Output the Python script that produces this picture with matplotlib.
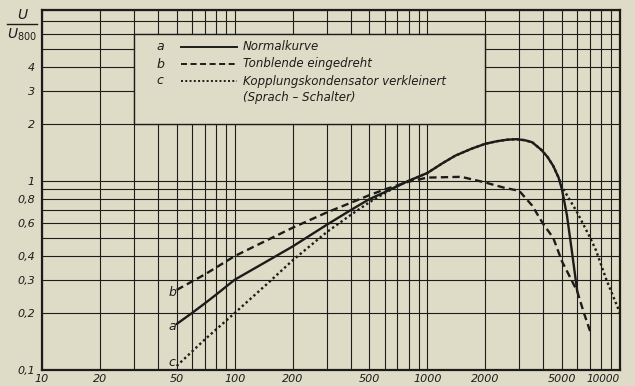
import numpy as np
import matplotlib
matplotlib.use("Agg")
import matplotlib.pyplot as plt
from matplotlib.lines import Line2D
from matplotlib.patches import Rectangle
from matplotlib.ticker import FixedLocator, NullFormatter, LogLocator

# --- frequency response data (f in Hz, U/U800) ---
freq_a = [50, 60, 70, 80, 100, 150, 200, 300, 400, 500, 600, 800, 1000, 1200,
          1400, 1700, 2000, 2300, 2600, 2900, 3200, 3500, 3900, 4200, 4500,
          4800, 5000, 5300, 5600, 6000]
val_a = [0.175, 0.20, 0.225, 0.25, 0.30, 0.38, 0.45, 0.585, 0.70, 0.80, 0.87,
         1.0, 1.10, 1.24, 1.36, 1.48, 1.57, 1.62, 1.65, 1.66, 1.64, 1.60, 1.46,
         1.34, 1.20, 1.04, 0.90, 0.66, 0.44, 0.26]

freq_b = [50, 70, 100, 150, 200, 300, 400, 500, 600, 800, 1000, 1500, 2000,
          2500, 3000, 3500, 4000, 4500, 5000, 5500, 6000, 6500, 7000]
val_b = [0.265, 0.32, 0.40, 0.49, 0.565, 0.68, 0.765, 0.84, 0.90, 0.99, 1.04,
         1.05, 0.98, 0.92, 0.885, 0.74, 0.59, 0.50, 0.375, 0.31, 0.26, 0.20, 0.16]

freq_c = [50, 70, 100, 150, 200, 300, 400, 500, 600, 700, 800, 1000, 1200, 1400,
          1700, 2000, 2300, 2600, 2900, 3200, 3500, 3900, 4200, 4500, 4800,
          5000, 6000, 7000, 7500, 8500, 10000]
val_c = [0.105, 0.145, 0.20, 0.29, 0.38, 0.535, 0.66, 0.77, 0.86, 0.94, 1.0,
         1.10, 1.24, 1.36, 1.48, 1.57, 1.62, 1.65, 1.66, 1.64, 1.60, 1.46, 1.34,
         1.20, 1.04, 0.93, 0.68, 0.50, 0.43, 0.30, 0.20]

x_ticks = [10, 20, 50, 100, 200, 500, 1000, 2000, 5000, 10000]
x_labels = ["10", "20", "50", "100", "200", "500", "1000", "2000", "5000", "10000"]
y_ticks = [0.1, 0.2, 0.3, 0.4, 0.6, 0.8, 1, 2, 3, 4]
y_labels = ["0,1", "0,2", "0,3", "0,4", "0,6", "0,8", "1", "2", "3", "4"]

legend_keys = ["a", "b", "c"]
legend_texts = ["Normalkurve", "Tonblende eingedreht",
                "Kopplungskondensator verkleinert"]
legend_extra = "(Sprach – Schalter)"

PAPER = "#dedcc6"
INK = "#1c1c1a"

W, H = 635, 386
fig = plt.figure(figsize=(W / 100, H / 100), dpi=100, facecolor=PAPER)


def fx(px):
    return px / W


def fy(py):
    return 1 - py / H


ax = fig.add_axes([fx(42), fy(370), fx(620) - fx(42), fy(10) - fy(370)])
ax.set_facecolor(PAPER)
ax.set_xscale("log")
ax.set_yscale("log")
ax.set_xlim(10, 10000)
ax.set_ylim(0.1, 8)

# grid at every 1..9 step of each decade
ax.xaxis.set_minor_locator(LogLocator(base=10, subs=np.arange(2, 10)))
ax.yaxis.set_minor_locator(LogLocator(base=10, subs=np.arange(2, 10)))
ax.xaxis.set_minor_formatter(NullFormatter())
ax.yaxis.set_minor_formatter(NullFormatter())
ax.grid(which="both", color=INK, linewidth=0.8)
ax.set_axisbelow(True)

ax.xaxis.set_major_locator(FixedLocator(x_ticks))
ax.set_xticklabels(x_labels)
ax.yaxis.set_major_locator(FixedLocator(y_ticks))
ax.set_yticklabels(y_labels)
ax.tick_params(which="both", length=0)
ax.tick_params(axis="x", pad=3)
ax.tick_params(axis="y", pad=5)
for lab in ax.get_xticklabels() + ax.get_yticklabels():
    lab.set_fontstyle("italic")
    lab.set_fontsize(8)
    lab.set_color(INK)
# last frequency label sits flush with the right edge
ax.get_xticklabels()[-1].set_horizontalalignment("right")
ax.get_xticklabels()[-1].set_x(10000)
ax.get_xticklabels()[-1].set_fontsize(7.6)

for sp in ax.spines.values():
    sp.set_linewidth(1.6)
    sp.set_color(INK)

# legend panel cut out of the grid
ax.add_patch(Rectangle((30, 2), 2000 - 30, 6 - 2, facecolor=PAPER,
                       edgecolor=INK, linewidth=1.0, zorder=1.5))

lw = 1.7
ax.plot(freq_a, val_a, color=INK, lw=lw, zorder=3, solid_capstyle="round",
        solid_joinstyle="round")
ax.plot(freq_b, val_b, color=INK, lw=lw, zorder=3, dashes=(3.1, 1.8))
ax.plot(freq_c, val_c, color=INK, lw=lw, zorder=3, dashes=(1.0, 1.2))

# curve letters at the low-frequency ends
for key, (px, py) in zip(legend_keys, [(172, 326), (172, 293), (172, 362)]):
    fig.text(fx(px), fy(py), key, ha="center", va="center",
             fontsize=9, style="italic", color=INK)

# legend entries
rows = [47, 64, 81]
styles = [dict(), dict(dashes=(3.1, 1.8)), dict(dashes=(1.0, 1.2))]
for key, txt, py, st in zip(legend_keys, legend_texts, rows, styles):
    fig.text(fx(160), fy(py), key, ha="center", va="center",
             fontsize=9, style="italic", color=INK)
    fig.add_artist(Line2D([fx(181), fx(237)], [fy(py), fy(py)], color=INK,
                          lw=1.4, **st))
    fig.text(fx(243), fy(py), txt, ha="left", va="center",
             fontsize=8.5, style="italic", color=INK)
fig.text(fx(243), fy(97), legend_extra, ha="left", va="center",
         fontsize=8.5, style="italic", color=INK)

# axis quantity U / U800
fig.text(fx(22), fy(15), "U", ha="center", va="center",
         fontsize=10, style="italic", color=INK)
fig.add_artist(Line2D([fx(7), fx(37)], [fy(24), fy(24)], color=INK, lw=1.0))
fig.text(fx(22), fy(35), r"$\mathit{U}_{\mathit{800}}$", ha="center",
         va="center", fontsize=10, color=INK)

fig.savefig("out.png", dpi=100, facecolor=PAPER)
